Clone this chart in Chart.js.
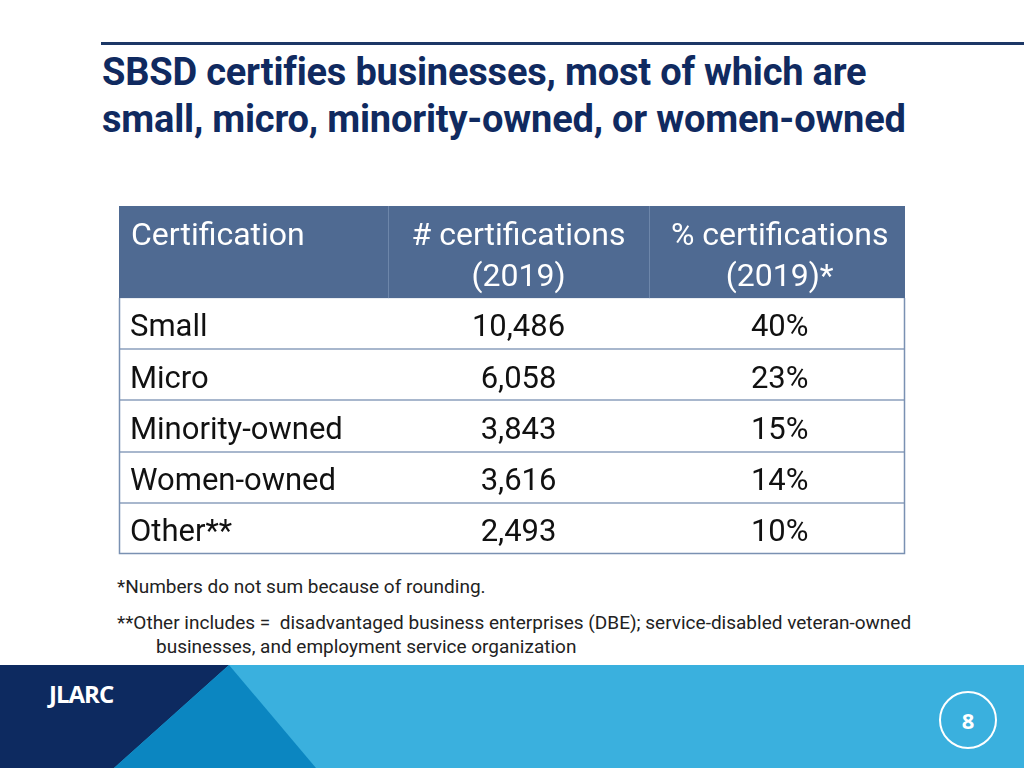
<!DOCTYPE html>
<html lang="en">
<head>
  <meta charset="UTF-8">
  <title>SBSD certifications</title>
  <script src="https://cdn.jsdelivr.net/npm/chart.js"></script>
  <style>
    body { margin: 0; width: 1024px; height: 768px; position: relative; overflow: hidden; background: #fff; }
    .rule { position: absolute; left: 101px; top: 42px; width: 923px; height: 3px; background: #1c3766; }
    .title { position: absolute; left: 102px; top: 49px; font: bold 38px Roboto, sans-serif; color: #102a60; line-height: 47px; white-space: nowrap; letter-spacing: -0.2px; }
    .note { position: absolute; left: 117px; font: 19px Roboto, sans-serif; color: #222; line-height: 24px; white-space: nowrap; }
    .footer { position: absolute; left: 0; top: 665px; width: 1024px; height: 103px; background: #3ab0de; }
    .navy { position: absolute; left: 0; top: 0; width: 1024px; height: 103px; background: #0d2a60; clip-path: polygon(0 0, 229px 0, 114px 103px, 0 103px); }
    .mid { position: absolute; left: 0; top: 0; width: 1024px; height: 103px; background: #0b86c1; clip-path: polygon(229px 0, 316px 103px, 114px 103px); }
    .logo { position: absolute; left: 49px; top: 12px; font: bold 24px "Open Sans", sans-serif; color: #fff; letter-spacing: -1px; }
    .page { position: absolute; left: 939px; top: 26px; width: 54px; height: 54px; border: 2px solid #fff; border-radius: 50%; color: #fff; font: bold 22px "Open Sans", sans-serif; text-align: center; line-height: 54px; }
    #wrap { position: absolute; left: 118px; top: 205px; width: 788px; height: 350px; }
  </style>
</head>
<body>
  <div class="rule"></div>
  <div class="title">SBSD certifies businesses, most of which are<br>small, micro, minority-owned, or women-owned</div>

  <div id="wrap"><canvas id="certTable"></canvas></div>

  <div class="note" style="top:575px">*Numbers do not sum because of rounding.</div>
  <div class="note" style="top:611px">**Other includes =&nbsp; disadvantaged business enterprises (DBE); service-disabled veteran-owned<br><span style="padding-left:39px">businesses, and employment service organization</span></div>

  <div class="footer">
    <div class="navy"></div>
    <div class="mid"></div>
    <div class="logo">JLARC</div>
    <div class="page">8</div>
  </div>

  <script>
    // table contents
    const headers = [['Certification'], ['# certifications', '(2019)'], ['% certifications', '(2019)*']];
    const certTypes = ['Small', 'Micro', 'Minority-owned', 'Women-owned', 'Other**'];
    const certCounts = [10486, 6058, 3843, 3616, 2493];
    const certShares = [40, 23, 15, 14, 10];

    // header takes 1.8 row units, each body row 1 unit
    const HEAD = 1.8;
    const rowY = certTypes.map((c, i) => HEAD + i + 0.5);

    const fontBody = '31px Roboto, sans-serif';
    const fontHead = '32px Roboto, sans-serif';

    const tablePlugin = {
      id: 'tablePlugin',
      beforeDatasetsDraw(chart) {
        const ctx = chart.ctx;
        const x = chart.scales.x, y = chart.scales.y;
        const left = x.getPixelForValue(x.min), right = x.getPixelForValue(x.max);
        const top = y.getPixelForValue(0), headBottom = y.getPixelForValue(HEAD);
        const bottom = y.getPixelForValue(HEAD + certTypes.length);
        ctx.save();
        ctx.fillStyle = '#4f6a92';
        ctx.fillRect(left, top, right - left, headBottom - top);
        // header column dividers
        ctx.strokeStyle = '#6d86aa';
        ctx.lineWidth = 1;
        [0.5, 1.5].forEach(v => {
          const px = Math.round(x.getPixelForValue(v)) + 0.5;
          ctx.beginPath(); ctx.moveTo(px, top); ctx.lineTo(px, headBottom); ctx.stroke();
        });
        // body row lines
        ctx.strokeStyle = '#8b9fbd';
        ctx.lineWidth = 1.5;
        for (let i = 1; i < certTypes.length; i++) {
          const py = Math.round(y.getPixelForValue(HEAD + i));
          ctx.beginPath(); ctx.moveTo(left, py); ctx.lineTo(right, py); ctx.stroke();
        }
        ctx.strokeStyle = '#7a91b2';
        ctx.beginPath();
        ctx.moveTo(left + 0.5, headBottom); ctx.lineTo(left + 0.5, bottom - 0.5);
        ctx.lineTo(right - 0.5, bottom - 0.5); ctx.lineTo(right - 0.5, headBottom);
        ctx.stroke();
        // header text
        ctx.fillStyle = '#fff';
        ctx.font = fontHead;
        ctx.textBaseline = 'middle';
        headers.forEach((lines, c) => {
          lines.forEach((t, k) => {
            const py = y.getPixelForValue(0.6 + k * 0.8);
            if (c === 0) { ctx.textAlign = 'left'; ctx.fillText(t, left + 12, py); }
            else { ctx.textAlign = 'center'; ctx.fillText(t, x.getPixelForValue(c), py); }
          });
        });
        // body text
        ctx.fillStyle = '#111';
        ctx.font = fontBody;
        chart.getDatasetMeta(0).data.forEach((pt, i) => {
          ctx.textAlign = 'left';
          ctx.fillText(certTypes[i], left + 11, pt.y + 5);
        });
        ctx.textAlign = 'center';
        chart.getDatasetMeta(1).data.forEach((pt, i) => {
          ctx.fillText(certCounts[i].toLocaleString('en-US'), pt.x, pt.y + 5);
        });
        chart.getDatasetMeta(2).data.forEach((pt, i) => {
          ctx.fillText(certShares[i] + '%', pt.x, pt.y + 5);
        });
        ctx.restore();
      }
    };

    new Chart(document.getElementById('certTable'), {
      type: 'scatter',
      data: {
        datasets: [
          { label: 'Certification', data: certTypes.map((c, i) => ({ x: 0, y: rowY[i] })) },
          { label: '# certifications (2019)', data: certCounts.map((v, i) => ({ x: 1, y: rowY[i] })) },
          { label: '% certifications (2019)*', data: certShares.map((v, i) => ({ x: 2, y: rowY[i] })) }
        ]
      },
      options: {
        responsive: true,
        maintainAspectRatio: false,
        animation: false,
        events: [],
        layout: { padding: 1 },
        elements: { point: { radius: 0, hoverRadius: 0 } },
        scales: {
          x: { type: 'linear', min: -0.53, max: 2.48, display: false },
          y: { type: 'linear', min: 0, max: HEAD + certTypes.length, reverse: true, display: false }
        },
        plugins: { legend: { display: false }, tooltip: { enabled: false } }
      },
      plugins: [tablePlugin]
    });
  </script>
</body>
</html>
